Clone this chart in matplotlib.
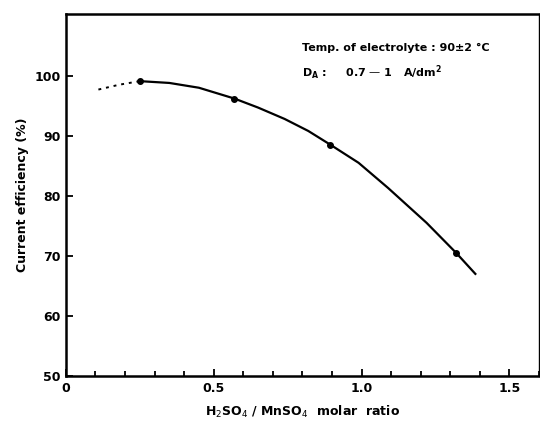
#!/usr/bin/env python3

import numpy as np
import matplotlib.pyplot as plt
from matplotlib.ticker import MultipleLocator

# measured points
ratio = [0.25, 0.57, 0.895, 1.32]
efficiency = [99.1, 96.2, 88.5, 70.5]

# solid curve
curve_x = [0.25, 0.35, 0.45, 0.57, 0.65, 0.74, 0.82, 0.895, 0.99, 1.09, 1.22, 1.32, 1.385]
curve_y = [99.1, 98.8, 98.0, 96.2, 94.7, 92.8, 90.8, 88.5, 85.5, 81.3, 75.5, 70.5, 67.0]

# dotted extrapolation
dot_x = [0.11, 0.18, 0.25]
dot_y = [97.7, 98.5, 99.1]

x_ticks = [0, 0.5, 1.0, 1.5]
x_ticklabels = ['0', '0.5', '1.0', '1.5']
y_ticks = [50, 60, 70, 80, 90, 100]


def main():
    fig = plt.figure(figsize=(5.4, 4.21), dpi=100)
    ax = fig.add_axes([0.122, 0.107, 0.876, 0.860])

    ax.plot(curve_x, curve_y, color='black', lw=1.6)
    ax.plot(dot_x, dot_y, color='black', lw=1.4, ls=(0, (1.5, 2.5)))
    ax.plot(ratio, efficiency, 'o', color='black', ms=4)

    ax.set_xlim(0, 1.6)
    ax.set_ylim(50, 110.3)
    ax.set_xticks(x_ticks)
    ax.set_xticklabels(x_ticklabels)
    ax.xaxis.set_minor_locator(MultipleLocator(0.1))
    ax.set_yticks(y_ticks)

    ax.tick_params(which='both', direction='in', width=1.3)
    ax.tick_params(which='major', length=5, labelsize=9, pad=4)
    ax.tick_params(which='minor', length=3.5)
    for lab in ax.get_xticklabels() + ax.get_yticklabels():
        lab.set_fontweight('bold')

    for side in ['left', 'bottom', 'top']:
        ax.spines[side].set_linewidth(1.8)
    ax.spines['right'].set_linewidth(1.0)

    ax.set_ylabel('Current efficiency (%)', fontsize=9, fontweight='bold', labelpad=4)
    ax.set_xlabel(r'H$_2$SO$_4$ / MnSO$_4$  molar  ratio', fontsize=9, fontweight='bold', labelpad=7)

    ax.text(0.80, 104.2, 'Temp. of electrolyte : 90\u00b12 \u00b0C', fontsize=8, fontweight='bold')
    ax.text(0.80, 99.9, 'D$_\\mathregular{A}$ :     0.7 \u2014 1   A/dm$^\\mathregular{2}$',
            fontsize=8, fontweight='bold')

    fig.savefig('out.png', dpi=100)


if __name__ == "__main__":
    main()
